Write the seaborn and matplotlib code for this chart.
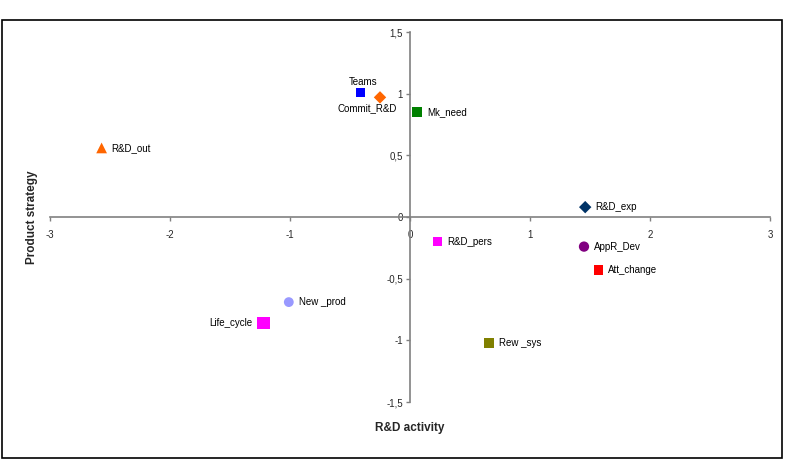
import pandas as pd
import seaborn as sns
import matplotlib
matplotlib.use("Agg")
from matplotlib import pyplot as plt
from matplotlib.patches import Rectangle
from matplotlib.ticker import FuncFormatter

labels = ["Teams", "Commit_R&D", "Mk_need", "R&D_out", "R&D_exp", "R&D_pers",
          "AppR_Dev", "Att_change", "New _prod", "Life_cycle", "Rew _sys"]
rd_activity = [-0.41, -0.25, 0.06, -2.57, 1.46, 0.23, 1.45, 1.57, -1.01, -1.22, 0.66]
product_strategy = [1.01, 0.97, 0.85, 0.56, 0.08, -0.20, -0.24, -0.43, -0.69, -0.86, -1.02]

colors = ["#0000FF", "#FF6600", "#008000", "#FF6600", "#003366", "#FF00FF",
          "#800080", "#FF0000", "#9999FF", "#FF00FF", "#808000"]
markers = ["s", "D", "s", "^", "D", "s", "o", "s", "o", "s", "s"]
sizes = [42, 40, 48, 60, 40, 48, 55, 48, 50, 85, 48]

df = pd.DataFrame({"label": labels, "x": rd_activity, "y": product_strategy,
                   "sz": sizes})

sns.set_style("white")
plt.rcParams["font.family"] = ["Liberation Sans", "DejaVu Sans"]

fig = plt.figure(figsize=(7.86, 4.62), dpi=100)
ax = fig.add_axes([50 / 786, 60 / 462, 720 / 786, 370 / 462])

sns.scatterplot(data=df, x="x", y="y", hue="label", style="label", size="label",
                palette=dict(zip(labels, colors)),
                markers=dict(zip(labels, markers)),
                sizes=dict(zip(labels, sizes)),
                linewidth=0, legend=False, ax=ax)

# label placement (offsets in points)
offsets = {
    "Teams": (2, 4, "center", "bottom"),
    "Commit_R&D": (-9, -4, "center", "top"),
    "Life_cycle": (-8, 0, "right", "center"),
}
for lab, x, y in zip(labels, rd_activity, product_strategy):
    dx, dy, ha, va = offsets.get(lab, (7, 0, "left", "center"))
    ax.annotate(lab, (x, y), xytext=(dx, dy), textcoords="offset points",
                ha=ha, va=va, fontsize=7, color="black")

ax.set_xlim(-3, 3)
ax.set_ylim(-1.5, 1.5)
ax.set_xticks([-3, -2, -1, 0, 1, 2, 3])
ax.set_yticks([-1.5, -1, -0.5, 0, 0.5, 1, 1.5])
fmt = FuncFormatter(lambda v, p: ("%g" % v).replace(".", ","))
ax.xaxis.set_major_formatter(fmt)
ax.yaxis.set_major_formatter(fmt)

for s in ["top", "right"]:
    ax.spines[s].set_visible(False)
ax.spines["left"].set_position(("data", 0))
ax.spines["bottom"].set_position(("data", 0))
for s in ["left", "bottom"]:
    ax.spines[s].set_color("#808080")
    ax.spines[s].set_linewidth(1.2)

ax.tick_params(axis="both", direction="out", length=3, width=1, color="#808080",
               labelsize=7, pad=2, bottom=True, left=True)
ax.tick_params(axis="x", pad=6)

ax.set_xlabel("")
ax.set_ylabel("")
fig.text(410 / 786, 1 - 428 / 462, "R&D activity", ha="center", va="center",
         fontsize=8.5, fontweight="bold")
fig.text(32 / 786, 1 - 217 / 462, "Product strategy", ha="center", va="center",
         rotation=90, fontsize=8.5, fontweight="bold")

fig.patches.append(Rectangle((2 / 786, 4 / 462), 780 / 786, 438 / 462,
                             transform=fig.transFigure, fill=False,
                             edgecolor="black", linewidth=1.2))

fig.savefig("out.png", dpi=100)
